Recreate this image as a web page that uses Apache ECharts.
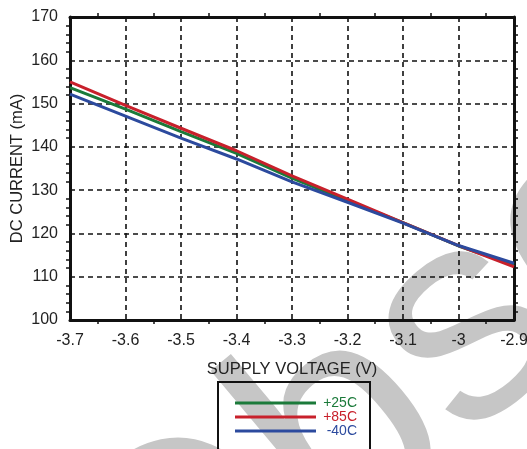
<!DOCTYPE html>
<html><head><meta charset="utf-8">
<script src="https://cdn.jsdelivr.net/npm/echarts@6/dist/echarts.min.js"></script>
<style>html,body{margin:0;padding:0;background:#fff}#c{width:527px;height:449px}</style>
</head><body><div id="c"></div>
<script>
const voltages = [-3.7, -3.6, -3.5, -3.4, -3.3, -3.2, -3.1, -3.0, -2.9];
const cur25 = [153.7, 148.7, 143.5, 138.5, 132.8, 127.6, 122.5, 117.1, 112.7];
const cur85 = [155.0, 149.6, 144.3, 139.1, 133.3, 127.9, 122.5, 117.2, 112.3];
const curM40 = [152.2, 147.1, 142.0, 137.2, 131.9, 127.2, 122.4, 117.2, 113.1];
const seriesNames = ['+25C', '+85C', '-40C'];
const seriesColors = ['#1b7a3a', '#c8202b', '#2c4a9e'];
const xTicks = { min: -3.7, max: -2.9, step: 0.1 };
const yTicks = { min: 100, max: 170, step: 10 };

const chart = echarts.init(document.getElementById('c'));
const FONT = 'Liberation Sans, Arial, sans-serif';
const pair = (arr) => voltages.map((v, i) => [v, arr[i]]);
const allData = [cur25, cur85, curM40];
const richKeys = ['g', 'r', 'b'];
const rich = {};
richKeys.forEach((k, i) => rich[k] = { color: seriesColors[i], fontSize: 14, fontFamily: FONT, width: 36, align: 'right' });

const axisCommon = {
  axisLine: { show: true, lineStyle: { color: '#111', width: 3 } },
  axisTick: { show: false },
  minorTick: { show: true, inside: true, length: 4, lineStyle: { color: '#111', width: 1.5 } },
  splitLine: { show: false }
};

chart.setOption({
  animation: false,
  graphic: [
    { type: 'text', z: -10, x: 103, y: 637, rotation: 40 * Math.PI / 180,
      style: { text: 'Obsolete', font: '300px Liberation Sans, Arial', fill: '#c6c6c6', textAlign: 'left', textVerticalAlign: 'middle' } },
    { type: 'rect', z: 10, shape: { x: 218, y: 382, width: 152, height: 100 }, style: { fill: 'none', stroke: '#111', lineWidth: 2 } }
  ],
  grid: { left: 70, right: 13, top: 17, bottom: 129, containLabel: false, outerBoundsMode: 'none' },
  legend: {
    orient: 'vertical', left: 230, top: 391, itemGap: 0, itemWidth: 81, itemHeight: 3,
    icon: 'rect', z: 11,
    data: seriesNames.map((n) => ({ name: n })),
    formatter: (name) => '{' + richKeys[seriesNames.indexOf(name)] + '|' + name + '}',
    textStyle: { fontSize: 14, fontFamily: FONT, lineHeight: 14, rich: rich }
  },
  xAxis: [
    Object.assign({}, axisCommon, {
      type: 'value', position: 'bottom', min: xTicks.min, max: xTicks.max, interval: xTicks.step,
      minorTick: Object.assign({}, axisCommon.minorTick, { splitNumber: 2 }),
      splitLine: { show: true, lineStyle: { color: '#111', width: 1.6, type: [5, 4] } },
      axisLabel: { fontSize: 16, fontFamily: FONT, color: '#222', margin: 13,
        formatter: (v) => String(+v.toFixed(1)) },
      name: 'SUPPLY VOLTAGE (V)', nameLocation: 'middle', nameGap: 41, nameMoveOverlap: false,
      nameTextStyle: { fontSize: 16.5, fontFamily: FONT, color: '#222' }
    }),
    Object.assign({}, axisCommon, {
      type: 'value', position: 'top', min: xTicks.min, max: xTicks.max, interval: xTicks.step,
      minorTick: Object.assign({}, axisCommon.minorTick, { splitNumber: 2 }),
      axisLabel: { show: false }
    })
  ],
  yAxis: [
    Object.assign({}, axisCommon, {
      type: 'value', position: 'left', min: yTicks.min, max: yTicks.max, interval: yTicks.step,
      minorTick: Object.assign({}, axisCommon.minorTick, { splitNumber: 5 }),
      splitLine: { show: true, lineStyle: { color: '#111', width: 1.6, type: [5, 4] } },
      axisLabel: { fontSize: 16, fontFamily: FONT, color: '#222', margin: 12 },
      name: 'DC CURRENT (mA)', nameLocation: 'middle', nameGap: 44, nameRotate: 90, nameMoveOverlap: false,
      nameTextStyle: { fontSize: 16.5, fontFamily: FONT, color: '#222' }
    }),
    Object.assign({}, axisCommon, {
      type: 'value', position: 'right', min: yTicks.min, max: yTicks.max, interval: yTicks.step,
      minorTick: Object.assign({}, axisCommon.minorTick, { splitNumber: 5 }),
      axisLabel: { show: false }
    })
  ],
  series: seriesNames.map((n, i) => ({
    name: n, type: 'line', data: pair(allData[i]), showSymbol: false, symbol: 'none',
    smooth: false, lineStyle: { color: seriesColors[i], width: 3 }, itemStyle: { color: seriesColors[i] }, z: 5 + i
  }))
});
</script></body></html>
